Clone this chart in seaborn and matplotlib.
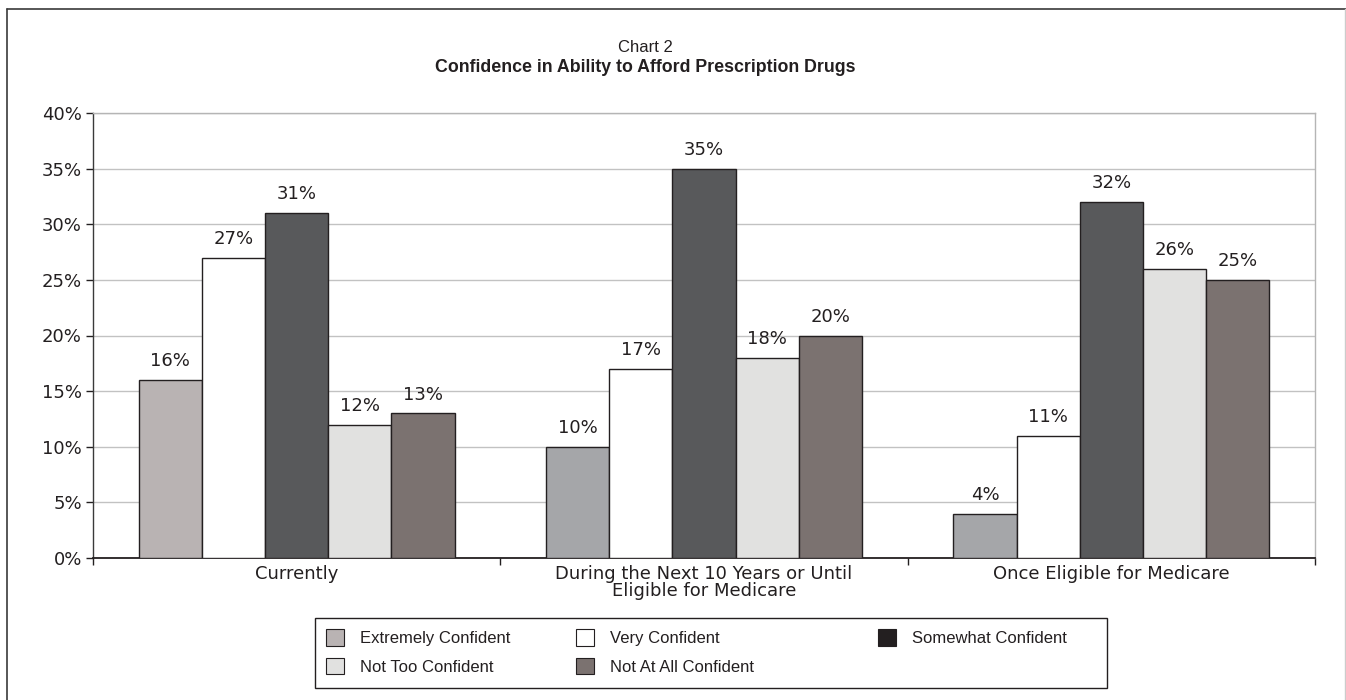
import matplotlib
matplotlib.use("Agg")
import matplotlib.pyplot as plt
from matplotlib.patches import Patch, Rectangle
from matplotlib.lines import Line2D
import seaborn as sns
import pandas as pd

# Survey responses (% of respondents)
categories = ["Currently",
              "During the Next 10 Years or Until\nEligible for Medicare",
              "Once Eligible for Medicare"]
levels = ["Extremely Confident", "Very Confident", "Somewhat Confident",
          "Not Too Confident", "Not At All Confident"]
currently = [16, 27, 31, 12, 13]
next_10_years = [10, 17, 35, 18, 20]
once_eligible = [4, 11, 32, 26, 25]
y_ticks = [0, 5, 10, 15, 20, 25, 30, 35, 40]

# Styling
bar_colors = ["#b9b3b3", "#ffffff", "#58595b", "#e1e1e0", "#7b7270"]
extremely_group_colors = ["#b9b3b3", "#a5a6a9", "#a5a6a9"]
legend_colors = ["#b9b3b3", "#ffffff", "#231f20", "#e1e1e0", "#7b7270"]
edge = "#231f20"
text_color = "#231f20"
W, H = 1346, 700

rows = []
for cat, vals in zip(categories, [currently, next_10_years, once_eligible]):
    for lvl, v in zip(levels, vals):
        rows.append({"category": cat, "level": lvl, "value": v})
df = pd.DataFrame(rows)

sns.set_theme(style="white")
plt.rcParams["font.family"] = ["Liberation Sans", "DejaVu Sans"]
plt.rcParams["text.color"] = text_color
wide_font = ["DejaVu Sans"]

fig = plt.figure(figsize=(W / 100, H / 100), dpi=100)
ax = fig.add_axes([93 / W, 1 - 558 / H, (1315 - 93) / W, (558 - 113) / H])

sns.barplot(data=df, x="category", y="value", hue="level", order=categories,
            hue_order=levels, palette=bar_colors, width=0.775, gap=0,
            edgecolor=edge, linewidth=1.0, saturation=1, legend=False, ax=ax,
            zorder=3)

# Extremely Confident bars are shaded differently per group
for patch, col in zip(ax.containers[0], extremely_group_colors):
    patch.set_facecolor(col)

# Value labels
for cont in ax.containers:
    ax.bar_label(cont, labels=[f"{int(round(p.get_height()))}%" for p in cont],
                 padding=7, fontsize=13, family=wide_font, color=text_color)

ax.set_ylim(0, 40)
ax.set_xlim(-0.5, 2.5)
ax.set_yticks(y_ticks)
ax.set_yticklabels([f"{t}%" for t in y_ticks], fontsize=13, family=wide_font,
                   color=text_color)
ax.yaxis.grid(True, color="#c2c2c2", linewidth=1.0, zorder=0)
ax.set_axisbelow(True)
ax.set_xlabel("")
ax.set_ylabel("")
ax.tick_params(axis="x", which="major", length=0, labelcolor=text_color, pad=5)
for lab in ax.get_xticklabels():
    lab.set_fontsize(13)
    lab.set_family(wide_font)
    lab.set_linespacing(0.9)
ax.set_xticks([-0.5, 0.5, 1.5, 2.5], minor=True)
ax.tick_params(axis="x", which="minor", length=5, width=1, color=edge,
               direction="out", bottom=True)
ax.tick_params(axis="y", length=5, width=1, color=edge, direction="out",
               left=True, pad=3)

for side in ["top", "right"]:
    ax.spines[side].set_visible(True)
    ax.spines[side].set_color("#b5b5b5")
    ax.spines[side].set_linewidth(1.0)
ax.spines["left"].set_color("#3a3a3a")
ax.spines["bottom"].set_color(edge)
ax.spines["left"].set_linewidth(1.0)
ax.spines["bottom"].set_linewidth(1.3)

# Titles
fig.text(645 / W, 1 - 47 / H, "Chart 2", ha="center", va="center",
         fontsize=12, color=text_color)
fig.text(645 / W, 1 - 68 / H, "Confidence in Ability to Afford Prescription Drugs",
         ha="center", va="center", fontsize=12.8, fontweight="bold", color=text_color)

# Legend: framed box with three columns
fig.add_artist(Rectangle((315 / W, 1 - 688 / H), (1107 - 315) / W, (688 - 618) / H,
                         transform=fig.transFigure, facecolor="white",
                         edgecolor=edge, linewidth=1.0, zorder=1))
handles = [Patch(facecolor=c, edgecolor=edge, linewidth=0.8, label=l)
           for c, l in zip(legend_colors, levels)]
columns = [([0, 3], 326), ([1, 4], 576), ([2], 878)]
for idx, x0 in columns:
    lg = fig.legend([handles[i] for i in idx], [levels[i] for i in idx],
                    loc="upper left", bbox_to_anchor=(x0 / W, 1 - 629 / H),
                    frameon=False, fontsize=12, handlelength=1.1,
                    handleheight=1.15, handletextpad=0.95, borderpad=0,
                    borderaxespad=0, labelspacing=0.72)
    lg.set_zorder(2)
    for t in lg.get_texts():
        t.set_color(text_color)

# Outer frame
fig.add_artist(Line2D([7 / W, 7 / W], [0, 1 - 9 / H], transform=fig.transFigure,
                      color="#3a3a3a", linewidth=1.2))
fig.add_artist(Line2D([7 / W, 1], [1 - 9 / H, 1 - 9 / H], transform=fig.transFigure,
                      color="#3a3a3a", linewidth=1.2))
fig.add_artist(Line2D([1345 / W, 1345 / W], [0, 1 - 9 / H], transform=fig.transFigure,
                      color="#cccccc", linewidth=1.0))

fig.savefig("out.png", dpi=100)
